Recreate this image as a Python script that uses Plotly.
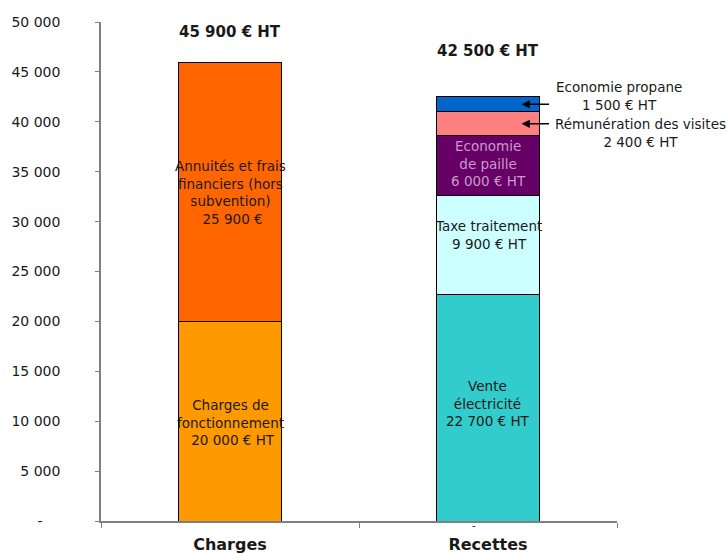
import plotly.graph_objects as go

# Categories on the x axis
categories = ["Charges", "Recettes"]

# Charges (€ HT)
charges_labels = ["Charges de<br>fonctionnement<br> 20 000 € HT",
                  "Annuités et frais<br>financiers (hors<br>subvention)<br> 25 900 €"]
charges_values = [20000, 25900]
charges_colors = ["#FF9900", "#FF6600"]

# Recettes (€ HT)
recettes_labels = ["Vente<br>électricité<br>22 700 € HT",
                   "Taxe traitement<br>9 900 € HT",
                   "Economie<br>de paille<br>6 000 € HT",
                   "Rémunération des visites<br>2 400 € HT",
                   "Economie propane<br>1 500 € HT"]
recettes_values = [22700, 9900, 6000, 2400, 1500]
recettes_colors = ["#33CCCC", "#CCFFFF", "#660066", "#FF8080", "#0066CC"]

# Y axis ticks (accounting style: zero shown as a dash)
NB = "\u00a0"
y_tickvals = [0, 5000, 10000, 15000, 20000, 25000, 30000, 35000, 40000, 45000, 50000]
y_ticktext = ["-" + NB * 4, "5 000", "10 000", "15 000", "20 000", "25 000",
              "30 000", "35 000", "40 000", "45 000", "50 000"]

FONT = "Verdana, DejaVu Sans, sans-serif"
TXT = "#1a1a1a"
LBL = 13.5

# plot-area geometry in pixels (used to place call-outs outside the axes)
L, R, T, B, W, H = 101, 111, 22, 32, 728, 553
PLOT_W = W - L - R


def px_to_paper_x(px):
    return (px - L) / PLOT_W


def fmt(v):
    return f"{v:,.0f}".replace(",", " ")


fig = go.Figure()

for cat, vals, cols in [(categories[0], charges_values, charges_colors),
                        (categories[1], recettes_values, recettes_colors)]:
    for v, c in zip(vals, cols):
        fig.add_trace(go.Bar(
            x=[cat], y=[v], width=0.4,
            marker=dict(color=c, line=dict(color="#000000", width=1)),
            hoverinfo="skip", showlegend=False,
        ))

annotations = []

# Labels inside the stacked segments
inside = [
    (0, charges_labels[0], charges_values, 0, -1, TXT),
    (0, charges_labels[1], charges_values, 1, 0, TXT),
    (1, recettes_labels[0], recettes_values, 0, 4, TXT),
    (1, recettes_labels[1], recettes_values, 1, 10, TXT),
    (1, recettes_labels[2], recettes_values, 2, 2, "#CC99CC"),
]
for xi, text, vals, idx, shift, col in inside:
    base = sum(vals[:idx])
    annotations.append(dict(
        x=xi, y=base + vals[idx] / 2, xref="x", yref="y", text=text,
        showarrow=False, yshift=shift, align="center",
        font=dict(family=FONT, size=LBL, color=col),
    ))

# Totals above the bars
totals = [sum(charges_values), sum(recettes_values)]
annotations.append(dict(x=0, y=totals[0], xref="x", yref="y",
                        text=f"<b>{fmt(totals[0])} € HT</b>", showarrow=False,
                        yshift=31, font=dict(family=FONT, size=15, color=TXT)))
annotations.append(dict(x=1, y=totals[1], xref="x", yref="y",
                        text=f"<b>{fmt(totals[1])} € HT</b>", showarrow=False,
                        yshift=46, font=dict(family=FONT, size=15, color=TXT)))

# Zero-value dashes
annotations.append(dict(x=-0.06, y=totals[0], xref="x", yref="y", text="-",
                        showarrow=False, yshift=1,
                        font=dict(family=FONT, size=10, color=TXT)))
annotations.append(dict(x=0.945, y=0, xref="x", yref="y", text="-",
                        showarrow=False, yshift=-4,
                        font=dict(family=FONT, size=10, color=TXT)))

# Call-outs for the two thin top segments of Recettes
cum = sum(recettes_values[:3])
mid_visites = cum + recettes_values[3] / 2
mid_propane = cum + recettes_values[3] + recettes_values[4] / 2
for ymid in (mid_propane, mid_visites):
    annotations.append(dict(
        x=1.13, y=ymid, xref="x", yref="y", text="", showarrow=True,
        ax=29, ay=0, axref="pixel", ayref="pixel",
        arrowhead=2, arrowsize=1.1, arrowwidth=1.5, arrowcolor="#000000",
    ))
annotations.append(dict(x=px_to_paper_x(619), y=mid_propane, xref="paper", yref="y",
                        text=recettes_labels[4], showarrow=False, yshift=8,
                        xanchor="center", align="center",
                        font=dict(family=FONT, size=LBL, color=TXT)))
annotations.append(dict(x=px_to_paper_x(640), y=mid_visites, xref="paper", yref="y",
                        text=recettes_labels[3], showarrow=False, yshift=-9,
                        xanchor="center", align="center",
                        font=dict(family=FONT, size=LBL, color=TXT)))

fig.update_layout(
    barmode="stack",
    width=W, height=H,
    margin=dict(l=L, r=R, t=T, b=B, autoexpand=False),
    paper_bgcolor="white", plot_bgcolor="white",
    font=dict(family=FONT, size=14, color=TXT),
    annotations=annotations,
    bargap=0.6,
)
fig.update_xaxes(
    type="category", range=[-0.5, 1.5], automargin=False,
    showline=True, linecolor="#808080", linewidth=1.5,
    ticks="outside", tickson="boundaries", ticklen=5, tickcolor="#808080",
    tickfont=dict(family=FONT, size=16, color=TXT),
    tickprefix="<b>", ticksuffix="</b>",
    ticklabelstandoff=8,
    showgrid=False, zeroline=False,
)
fig.update_yaxes(
    range=[0, 50000], automargin=False,
    tickvals=y_tickvals, ticktext=y_ticktext,
    showline=True, linecolor="#808080", linewidth=1.5,
    ticks="outside", ticklen=4, tickcolor="#808080",
    tickfont=dict(family=FONT, size=14, color=TXT),
    ticklabelstandoff=32,
    showgrid=False, zeroline=False,
)

fig.write_html("out.html")
